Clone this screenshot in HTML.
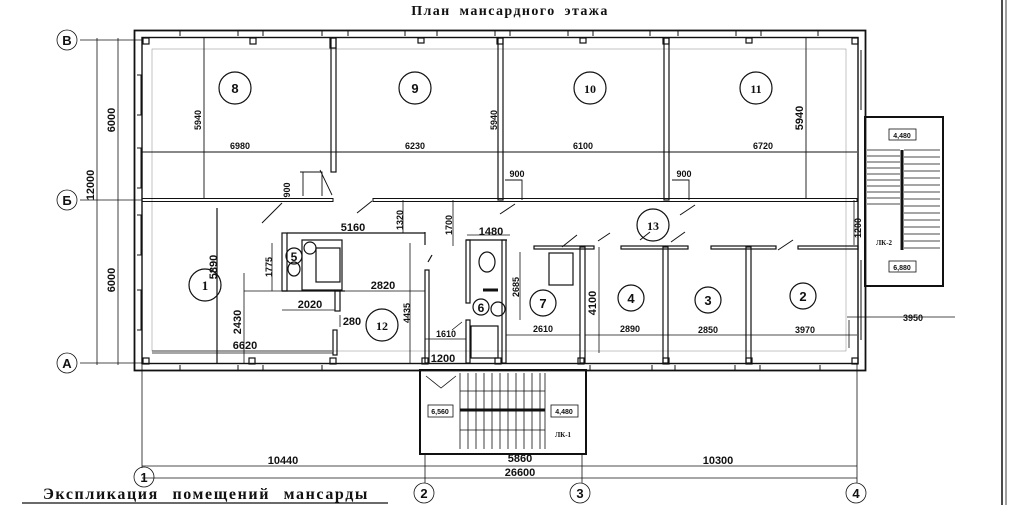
<!DOCTYPE html>
<html><head><meta charset="utf-8"><style>
html,body{margin:0;padding:0;background:#fff;}
svg{display:block;}
text{font-family:"Liberation Sans",sans-serif;fill:#111;}
.s{font-family:"Liberation Serif",serif;font-weight:bold;}
.d{font-size:11px;font-weight:bold;}
.dn{font-size:9px;font-weight:bold;}
</style></head><body>
<svg width="1028" height="505" viewBox="0 0 1028 505" xmlns="http://www.w3.org/2000/svg">
<rect width="1028" height="505" fill="#fff"/>
<g stroke="#111" fill="none">
<line x1="1002" y1="0" x2="1002" y2="505" stroke-width="1.5"/>
<line x1="1006" y1="0" x2="1006" y2="505" stroke-width="0.8"/>

<rect x="134.5" y="30.5" width="731" height="340" stroke-width="1.8"/>
<rect x="142" y="37.5" width="716" height="326" stroke-width="1.4"/>
<rect x="152" y="49" width="694" height="302" stroke-width="0.5" stroke="#888"/>
<g stroke-width="1">
<path d="M180 31v5M238 31v5M263 31v5M322 31v5M348 31v5M405 31v5M437 31v5M495 31v5M510 31v5M568 31v5M593 31v5M650 31v5M678 31v5M736 31v5M761 31v5M818 31v5"/>
<path d="M180 370v-5M238 370v-5M263 370v-5M322 370v-5M590 370v-5M652 370v-5M675 370v-5M735 370v-5M760 370v-5M820 370v-5"/>
<path d="M137 75h4v40h-4M137 148h4v40h-4M137 215h4v40h-4M137 290h4v40h-4M861 50v60M861 260v80"/>
</g>
<g stroke-width="1.2">
<rect x="143" y="38" width="6" height="6"/><rect x="250" y="38" width="6" height="6"/><rect x="330" y="38" width="6" height="10"/>
<rect x="418" y="38" width="6" height="5"/><rect x="497" y="38" width="6" height="6"/><rect x="580" y="38" width="6" height="5"/>
<rect x="663" y="38" width="6" height="6"/><rect x="746" y="38" width="6" height="5"/><rect x="852" y="38" width="6" height="6"/>
<rect x="143" y="358" width="6" height="6"/><rect x="249" y="358" width="6" height="6"/><rect x="330" y="358" width="6" height="6"/>
<rect x="422" y="358" width="6" height="6"/><rect x="495" y="358" width="6" height="6"/><rect x="578" y="358" width="6" height="6"/>
<rect x="663" y="358" width="6" height="6"/><rect x="746" y="358" width="6" height="6"/><rect x="852" y="358" width="6" height="6"/>
</g>
<rect x="142" y="198.5" width="191" height="3" stroke-width="1"/>
<rect x="373" y="198.5" width="484" height="3" stroke-width="1"/>
<rect x="331" y="38" width="5" height="134" stroke-width="1.2"/>
<rect x="498" y="38" width="5" height="162" stroke-width="1.2"/>
<rect x="664" y="38" width="5" height="162" stroke-width="1.2"/>
<g stroke-width="0.9">
<line x1="142" y1="152" x2="857" y2="152"/>
<line x1="204" y1="38" x2="204" y2="198"/>
<line x1="806" y1="38" x2="806" y2="198"/>
<path d="M300 172h22v24M303 172v24M505 180h17v20M672 180h17v20"/>
<path d="M320 170l12 25"/>
</g>
<g stroke-width="1">
<path d="M282 203l-20 20M372 201l-15 12M515 204l-15 10M695 205l-15 10M610 233l-12 8M685 232l-14 10M793 240l-15 10M562 247l15-12M640 240l10-8"/>
</g>

<g stroke-width="1.2">
<line x1="217" y1="208" x2="217" y2="363"/>
<rect x="282" y="233" width="5" height="58"/>
<line x1="287" y1="233" x2="425" y2="233"/>
<line x1="425" y1="232" x2="425" y2="245"/>
<rect x="302" y="240" width="40" height="50"/>
<rect x="316" y="248" width="24" height="34"/>
<line x1="282" y1="291" x2="345" y2="291"/>
<rect x="335" y="291" width="5" height="20"/>
<rect x="333" y="330" width="4" height="25"/>
<rect x="425" y="270" width="4" height="93"/>
<line x1="428" y1="262" x2="432" y2="255"/>
<ellipse cx="310" cy="248" rx="6" ry="6"/><ellipse cx="294" cy="269" rx="6" ry="7"/>
<rect x="466" y="240" width="4" height="63"/>
<line x1="466" y1="240" x2="507" y2="240"/>
<rect x="502" y="240" width="4" height="123"/>
<rect x="466" y="320" width="4" height="43"/>
<rect x="471" y="326" width="27" height="32"/>
<ellipse cx="487" cy="262" rx="8" ry="10"/>
<ellipse cx="498" cy="309" rx="7" ry="7"/>
<line x1="483" y1="290" x2="498" y2="290" stroke-width="3"/>
<rect x="549" y="253" width="24" height="32"/>
<rect x="534" y="246" width="60" height="3"/>
<rect x="580" y="247" width="5" height="116"/>
<rect x="621" y="246" width="67" height="3"/>
<rect x="663" y="247" width="5" height="116"/>
<rect x="711" y="246" width="65" height="3"/>
<rect x="746" y="247" width="5" height="116"/>
<rect x="798" y="246" width="60" height="3"/>
</g>
<g stroke-width="0.8">
<line x1="152" y1="353" x2="333" y2="353"/>
<line x1="244" y1="273" x2="244" y2="363"/>
<line x1="244" y1="291" x2="425" y2="291"/>
<line x1="282" y1="310" x2="335" y2="310"/>
<line x1="340" y1="315" x2="340" y2="327"/>
<line x1="272" y1="243" x2="272" y2="291"/>
<line x1="410" y1="243" x2="410" y2="363"/>
<line x1="425" y1="339" x2="466" y2="339"/>
<line x1="403" y1="200" x2="403" y2="233"/>
<line x1="453" y1="200" x2="453" y2="246"/>
<line x1="467" y1="235" x2="510" y2="235"/>
<line x1="520" y1="252" x2="520" y2="320"/>
<line x1="585" y1="335" x2="857" y2="335"/>
<line x1="506" y1="335" x2="580" y2="335"/>
<line x1="599" y1="247" x2="599" y2="353"/>
<line x1="847" y1="317" x2="955" y2="317"/>
<line x1="849" y1="320" x2="849" y2="348"/>
<line x1="854" y1="200" x2="854" y2="245"/>
<path d="M152 351h180M452 330l10-8M426 376l15 12l15-12"/>
</g>

<g stroke-width="0.8">
<line x1="80" y1="40" x2="142" y2="40"/>
<line x1="80" y1="200" x2="142" y2="200"/>
<line x1="80" y1="363" x2="142" y2="363"/>
<line x1="97" y1="38" x2="97" y2="365"/>
<line x1="118" y1="38" x2="118" y2="365"/>
<line x1="142" y1="363" x2="142" y2="468"/>
<line x1="425" y1="453" x2="425" y2="483"/>
<line x1="582" y1="453" x2="582" y2="483"/>
<line x1="857" y1="363" x2="857" y2="483"/>
<line x1="142" y1="466" x2="857" y2="466"/>
<line x1="142" y1="478" x2="857" y2="478"/>
<circle cx="67" cy="40" r="10"/><circle cx="67" cy="200" r="10"/><circle cx="67" cy="363" r="10"/>
<circle cx="144" cy="477" r="10"/><circle cx="424" cy="493" r="10"/><circle cx="580" cy="493" r="10"/><circle cx="856" cy="493" r="10"/>
</g>
<g stroke-width="1.2">
<circle cx="235" cy="88" r="16"/><circle cx="415" cy="88" r="16"/><circle cx="590" cy="88" r="16"/><circle cx="756" cy="88" r="16"/>
<circle cx="205" cy="285" r="16"/><circle cx="382" cy="325" r="16"/><circle cx="294" cy="256" r="8"/><circle cx="481" cy="307" r="8"/>
<circle cx="543" cy="303" r="13"/><circle cx="631" cy="298" r="13"/><circle cx="708" cy="300" r="13"/><circle cx="803" cy="296" r="13"/><circle cx="653" cy="225" r="16"/>
</g>

<g>
<rect x="865" y="117" width="78" height="169" stroke-width="2"/>
<line x1="902" y1="150" x2="902" y2="250" stroke-width="3"/>
<path d="M867 150h33M867 156h33M867 162h33M867 168h33M867 174h33M867 180h33M867 186h33M867 192h33M867 198h33M867 204h33" stroke-width="0.8"/>
<path d="M904 150h36M904 157h36M904 164h36M904 171h36M904 178h36M904 185h36M904 192h36M904 199h36M904 206h36M904 213h36M904 220h36M904 227h36M904 234h36M904 241h36M904 248h36" stroke-width="0.8"/>
<rect x="889" y="129" width="27" height="11" stroke-width="0.8"/>
<rect x="889" y="261" width="27" height="11" stroke-width="0.8"/>
</g>
<g>
<rect x="420" y="370" width="166" height="84" stroke-width="2"/>
<path d="M460 373v76M468 373v76M476 373v76M484 373v76M492 373v76M500 373v76M508 373v76M516 373v76M524 373v76M532 373v76M540 373v76M545 373v76" stroke-width="0.8"/>
<path d="M460 391h85M460 430h85" stroke-width="0.8"/>
<line x1="460" y1="410" x2="545" y2="410" stroke-width="3"/>
<rect x="428" y="405" width="25" height="12" stroke-width="0.8"/>
<rect x="551" y="405" width="27" height="12" stroke-width="0.8"/>
</g>
<line x1="22" y1="503" x2="388" y2="503" stroke-width="1.2"/>
</g>

<text x="510" y="15" class="s" font-size="14" letter-spacing="1.4" word-spacing="4" text-anchor="middle">План мансардного этажа</text>
<text x="206" y="499" class="s" font-size="16" letter-spacing="1.6" word-spacing="8" text-anchor="middle">Экспликация помещений мансарды</text>
<g class="s" font-size="13" text-anchor="middle">
<text x="67" y="45">В</text><text x="67" y="205">Б</text><text x="67" y="368">А</text>
<text x="144" y="482">1</text><text x="424" y="498">2</text><text x="580" y="498">3</text><text x="856" y="498">4</text>
</g>
<g font-size="13" font-weight="bold" text-anchor="middle">
<text x="235" y="93">8</text><text x="415" y="93">9</text><text x="590" y="93" class="s" font-size="12">10</text><text x="756" y="93" class="s" font-size="12">11</text>
<text x="205" y="290" class="s">1</text><text x="382" y="330" class="s" font-size="12">12</text><text x="294" y="261" font-size="12">5</text><text x="481" y="312" font-size="12">6</text>
<text x="543" y="308">7</text><text x="631" y="303">4</text><text x="708" y="305">3</text><text x="803" y="301">2</text><text x="653" y="230" class="s" font-size="12">13</text>
</g>
<g class="d" text-anchor="middle">
<text x="240" y="149" class="dn">6980</text><text x="415" y="149" class="dn">6230</text><text x="583" y="149" class="dn">6100</text><text x="763" y="149" class="dn">6720</text>
<text x="913" y="321" class="dn">3950</text>
<text x="630" y="332" class="dn">2890</text><text x="708" y="333" class="dn">2850</text><text x="805" y="333" class="dn">3970</text><text x="543" y="332" class="dn">2610</text>
<text x="446" y="337" class="dn">1610</text><text x="443" y="362">1200</text>
<text x="491" y="235">1480</text><text x="353" y="231">5160</text>
<text x="383" y="289">2820</text><text x="310" y="308">2020</text><text x="352" y="325">280</text><text x="245" y="349">6620</text>
<text x="283" y="464">10440</text><text x="520" y="462">5860</text><text x="718" y="464">10300</text><text x="520" y="476">26600</text>
<text x="517" y="177" class="dn">900</text><text x="684" y="177" class="dn">900</text>
<text x="902" y="138" font-size="7">4,480</text><text x="902" y="270" font-size="7">6,880</text>
<text x="440" y="414" font-size="7">6,560</text><text x="564" y="414" font-size="7">4,480</text>
<text x="563" y="437" font-size="7" class="s">ЛК-1</text><text x="884" y="245" font-size="7" class="s">ЛК-2</text>
</g>
<g class="d" text-anchor="middle">
<text transform="translate(94,185) rotate(-90)">12000</text>
<text transform="translate(115,120) rotate(-90)">6000</text>
<text transform="translate(115,280) rotate(-90)">6000</text>
<text transform="translate(201,120) rotate(-90)" class="dn">5940</text>
<text transform="translate(497,120) rotate(-90)" class="dn">5940</text>
<text transform="translate(803,118) rotate(-90)">5940</text>
<text transform="translate(217,267) rotate(-90)">5890</text>
<text transform="translate(241,322) rotate(-90)">2430</text>
<text transform="translate(272,267) rotate(-90)" class="dn">1775</text>
<text transform="translate(410,313) rotate(-90)" class="dn">4435</text>
<text transform="translate(403,220) rotate(-90)" class="dn">1320</text>
<text transform="translate(452,225) rotate(-90)" class="dn">1700</text>
<text transform="translate(519,287) rotate(-90)" class="dn">2685</text>
<text transform="translate(596,303) rotate(-90)">4100</text>
<text transform="translate(861,228) rotate(-90)" class="dn">1200</text>
<text transform="translate(290,190) rotate(-90)" class="dn" font-size="7">900</text>
</g>
</svg>
</body></html>
